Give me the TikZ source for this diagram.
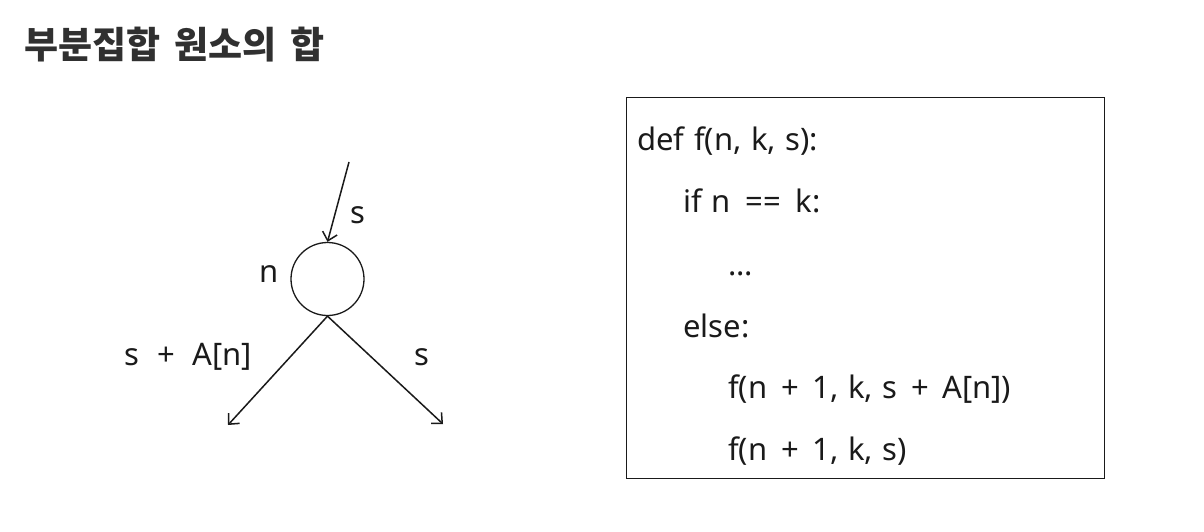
\documentclass[tikz,border=0pt]{standalone}
\usepackage{fontspec}
\setmainfont{Noto Sans}[WordSpace=1.2]
\newfontfamily\kr{Noto Sans CJK KR}
\usetikzlibrary{arrows.meta}
\definecolor{ink}{HTML}{1A1A1A}
\definecolor{titlec}{HTML}{303030}
\newcommand{\pl}{\hspace{4pt} + \hspace{4pt}}
\newcommand{\eqq}{\hspace{5pt} == \hspace{5pt}}
\tikzset{
  code/.style={anchor=base west, inner sep=0pt, font=\fontsize{31}{33}\selectfont, text=ink},
  lbl/.style={inner sep=0pt, font=\fontsize{31}{33}\selectfont, text=ink},
  edge/.style={line width=1.5pt, draw=ink, -{Straight Barb[length=8pt,width=15pt,line width=1.5pt]}},
}
\begin{document}
\begin{tikzpicture}[x=1pt,y=-1pt]
\useasboundingbox[fill=white] (0,0) rectangle (1204,532);
% title
\node[anchor=base west, inner sep=0pt, text=titlec, font=\kr\bfseries\fontsize{37}{39}\selectfont] (title) at (24,59) {부분집합\hspace{14pt}원소의\hspace{14pt}합};
% tree
\node[circle, draw=ink, line width=1.3pt, minimum size=73pt, inner sep=0pt] (v) at (327.5,279) {};
\coordinate (src) at (349,162);
\coordinate (lt) at (228,425);
\coordinate (rt) at (443,424);
\draw[edge] (src) -- (v.north);
\draw[edge] (v.south) -- (lt);
\draw[edge] (v.south) -- (rt);
\node[lbl, anchor=base west] (ls) at (350,223) {s};
\node[lbl, anchor=base west] (ln) at (259,282) {n};
\node[lbl, anchor=base west] (lsa) at (124,365) {s\hspace{18pt}+\hspace{18pt}A[n]};
\node[lbl, anchor=base west] (rs) at (414,365) {s};
% code box
\node[draw=ink, line width=1.3pt, minimum width=478pt, minimum height=381pt, anchor=north west, inner sep=0pt] (box) at (626,97) {};
\node[code] (c1) at (637,150) {def f(n, k, s):};
\node[code] (c2) at (683,212) {if n\eqq k:};
\node[code] (c3) at (728,275) {...};
\node[code] (c4) at (683,337) {else:};
\node[code] (c5) at (728,398) {f(n\pl 1, k, s\pl A[n])};
\node[code] (c6) at (728,460) {f(n\pl 1, k, s)};
\end{tikzpicture}
\end{document}
